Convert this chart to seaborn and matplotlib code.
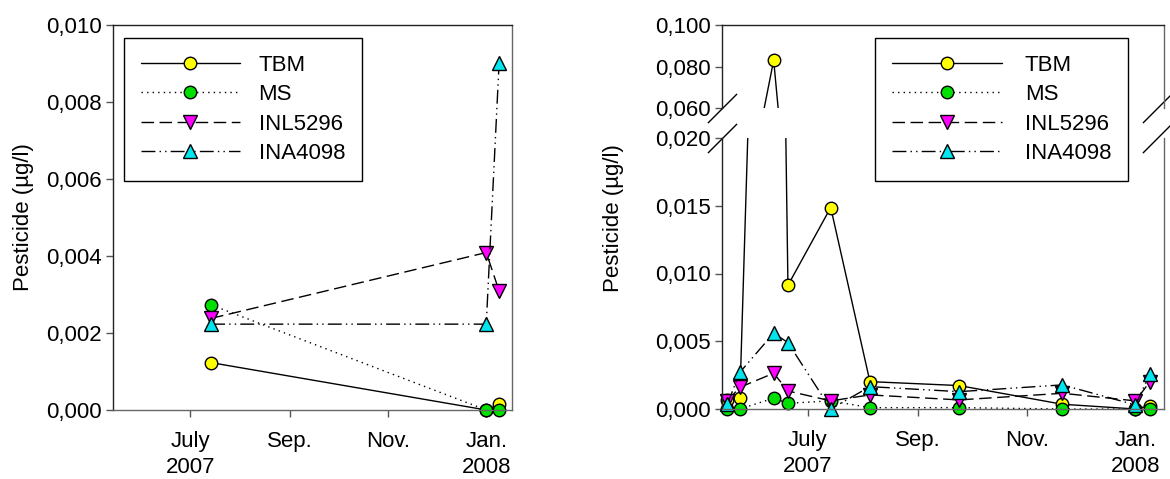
import pandas as pd
import numpy as np
import matplotlib.pyplot as plt
import matplotlib.dates as mdates
from matplotlib.ticker import FuncFormatter
from matplotlib.transforms import Bbox, TransformedBbox
import seaborn as sns

sns.set_style("ticks")
plt.rcParams['font.family'] = ['Liberation Sans', 'DejaVu Sans']
plt.rcParams['text.color'] = 'black'
plt.rcParams['axes.labelcolor'] = 'black'

# --- data ---
series_names = ["TBM", "MS", "INL5296", "INA4098"]

left_dates = pd.to_datetime(["2007-07-14", "2008-01-01", "2008-01-09"])
left_tbm = [0.00123, 0.0, 0.00015]
left_ms = [0.00273, 0.0, 0.0]
left_inl = [0.00238, 0.00409, 0.00309]
left_ina = [0.00223, 0.00223, 0.00902]

right_dates = pd.to_datetime(["2007-05-17", "2007-05-24", "2007-06-12", "2007-06-20",
                              "2007-07-14", "2007-08-05", "2007-09-24", "2007-11-21",
                              "2008-01-01", "2008-01-09"])
right_tbm = [0.00067, 0.0008, 0.083, 0.00913, 0.01487, 0.00202, 0.00173, 0.00035, 0.0, 0.00025]
right_ms = [0.0, 0.0, 0.0008, 0.00042, 0.0006, 0.0001, 0.0001, 0.0, 0.0, 0.0]
right_inl = [0.0006, 0.0016, 0.00264, 0.00133, 0.0006, 0.00104, 0.00067, 0.00116, 0.0006, 0.002]
right_ina = [0.00035, 0.0027, 0.0056, 0.0049, 0.0, 0.00165, 0.00128, 0.00178, 0.0003, 0.00257]

tick_dates = pd.to_datetime(["2007-07-01", "2007-09-01", "2007-11-01", "2008-01-01"])
tick_labels = ["July\n2007", "Sep.", "Nov.", "Jan.\n2008"]
x_range = pd.to_datetime(["2007-05-14", "2008-01-17"])

# line / marker styles per series
styles = [
    dict(ls="-", marker="o", fc="#FFFF00", ms=9),
    dict(ls=(0, (1, 3)), marker="o", fc="#00E000", ms=9),
    dict(ls=(0, (9, 4)), marker="v", fc="#FF00FF", ms=10),
    dict(ls=(0, (10, 3, 1, 3, 1, 3)), marker="^", fc="#00E5EE", ms=10),
]

fmt = FuncFormatter(lambda v, p: f"{v:.3f}".replace(".", ","))


def draw_series(ax, dates, values_list):
    for name, vals, st in zip(series_names, values_list, styles):
        sns.lineplot(x=dates, y=vals, ax=ax, color="black", linewidth=1,
                     linestyle=st["ls"], marker=st["marker"], markersize=st["ms"],
                     markerfacecolor=st["fc"], markeredgecolor="black",
                     markeredgewidth=1, label=name, legend=False, errorbar=None)
    # let markers sitting on the axis line show fully
    for line in ax.lines:
        line.set_clip_box(TransformedBbox(Bbox([[-0.03, -0.1], [1.03, 1.0]]), ax.transAxes))


def style_axes(ax):
    ax.set_xlim(x_range[0], x_range[1])
    ax.set_xticks(mdates.date2num(tick_dates))
    ax.set_xticklabels(tick_labels, linespacing=1.3)
    ax.yaxis.set_major_formatter(fmt)
    ax.tick_params(axis="both", direction="out", length=5, width=1,
                   labelsize=16, color="#555555", labelcolor="black")
    ax.tick_params(axis="x", pad=10)
    ax.tick_params(axis="y", pad=3)
    for side in ["left", "top"]:
        ax.spines[side].set_color("#222222")
    for side in ["bottom", "right"]:
        ax.spines[side].set_color("#666666")
    for sp in ax.spines.values():
        sp.set_linewidth(1)
    ax.set_xlabel("")
    ax.set_ylabel("")


fig = plt.figure(figsize=(11.7, 4.79), dpi=100)

# left panel
ax1 = fig.add_axes([113 / 1170, 69 / 479, 399 / 1170, 385 / 479])
draw_series(ax1, left_dates, [left_tbm, left_ms, left_inl, left_ina])
style_axes(ax1)
ax1.set_ylim(0, 0.010)
ax1.set_yticks([0, 0.002, 0.004, 0.006, 0.008, 0.010])
ax1.set_ylabel("Pesticide (µg/l)", fontsize=16)
ax1.yaxis.set_label_coords(-0.197, 0.5)

handles, labels = ax1.get_legend_handles_labels()
leg_kw = dict(loc="upper left", fontsize=16, labelspacing=0.38, borderpad=0.75,
              borderaxespad=0, numpoints=1, fancybox=False, framealpha=1,
              edgecolor="black")
leg1 = ax1.legend(handles, labels, bbox_to_anchor=(0.028, 0.966),
                  handlelength=4.45, handletextpad=0.85, **leg_kw)
leg1.get_frame().set_linewidth(1)

# right panel: broken y axis (lower 0-0.020, upper 0.060-0.100)
ax_low = fig.add_axes([722 / 1170, 70 / 479, 442 / 1170, 271 / 479])
ax_up = fig.add_axes([722 / 1170, 371 / 479, 442 / 1170, 83 / 479])
right_vals = [right_tbm, right_ms, right_inl, right_ina]
draw_series(ax_low, right_dates, right_vals)
draw_series(ax_up, right_dates, right_vals)
style_axes(ax_low)
style_axes(ax_up)
ax_low.set_ylim(0, 0.020)
ax_low.set_yticks([0, 0.005, 0.010, 0.015, 0.020])
ax_up.set_ylim(0.060, 0.100)
ax_up.set_yticks([0.060, 0.080, 0.100])
ax_up.spines["bottom"].set_visible(False)
ax_low.spines["top"].set_visible(False)
ax_up.tick_params(axis="x", bottom=False, labelbottom=False)
for line in ax_up.lines:
    line.set_clip_box(TransformedBbox(Bbox([[-0.03, 0.0], [1.03, 1.0]]), ax_up.transAxes))

ax_low.set_ylabel("Pesticide (µg/l)", fontsize=16)
ax_low.yaxis.set_label_coords(-0.222, 0.705)

# break marks
kw = dict(marker=[(-1, -1), (1, 1)], markersize=21, linestyle="none",
          color="k", mec="k", mew=1, clip_on=False)
ax_up.plot([0], [0], transform=ax_up.transAxes, **kw)
ax_low.plot([0], [1], transform=ax_low.transAxes, **kw)
ax_up.plot([0.985], [0], transform=ax_up.transAxes, **kw)
ax_low.plot([0.985], [1], transform=ax_low.transAxes, **kw)

leg2 = ax_up.legend(handles, labels, bbox_to_anchor=(0.346, 0.843),
                    handlelength=4.95, handletextpad=1.05, **leg_kw)
leg2.get_frame().set_linewidth(1)

fig.savefig("out.png", dpi=100)
